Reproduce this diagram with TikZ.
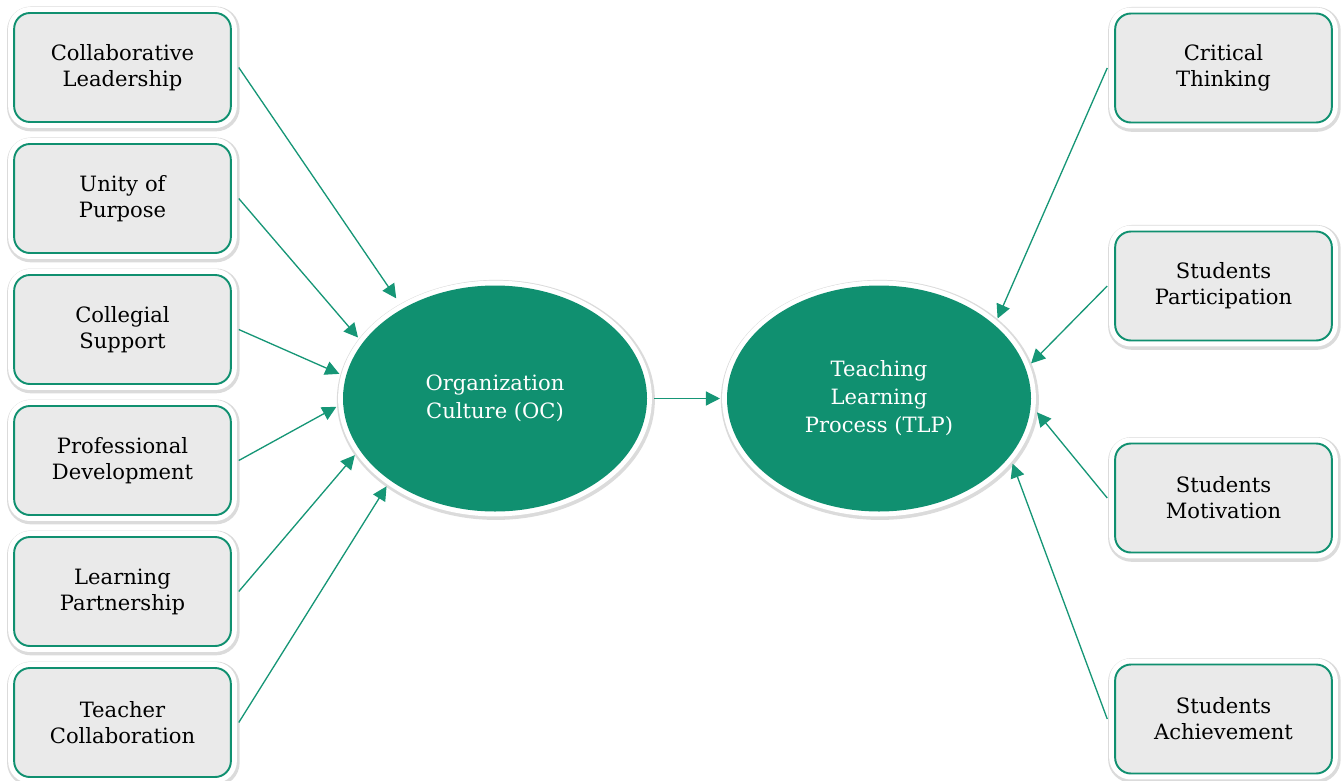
\documentclass[tikz,border=0pt]{standalone}
\usepackage{fontspec}
\setmainfont{DejaVu Serif}
\usepackage{xcolor}
\usetikzlibrary{arrows.meta}
\usetikzlibrary{shapes.geometric}

\definecolor{tealgreen}{RGB}{16,144,112}
\definecolor{linegreen}{RGB}{22,150,118}
\definecolor{boxgray}{RGB}{234,234,234}

\tikzset{
  factor/.style={rectangle, rounded corners=9pt, draw=tealgreen, line width=1.1pt,
    fill=boxgray, minimum width=4.3cm, minimum height=2.18cm, text width=4.1cm,
    align=center, font=\fontsize{12}{14.8}\selectfont, outer sep=4.5pt,
    preaction={draw=black!14, line width=9pt, transform canvas={xshift=0.5pt,yshift=-0.8pt}},
    preaction={draw=white, line width=6.8pt}},
  construct/.style={ellipse, fill=tealgreen, text=white, minimum width=6.08cm,
    minimum height=4.52cm, inner sep=0pt, align=center,
    font=\fontsize{12}{16}\selectfont, outer sep=4pt,
    preaction={draw=black!14, line width=8pt, transform canvas={xshift=0.5pt,yshift=-0.8pt}},
    preaction={draw=white, line width=5.6pt}},
  link/.style={draw=linegreen, line width=0.75pt, -{Triangle[length=8pt,width=8pt]}}
}

\begin{document}
\begin{tikzpicture}
\useasboundingbox (0,0) rectangle (26.82,-15.62);

% dimensions of organization culture
\node[factor] (lead) at (2.45,-1.35) {Collaborative\\Leadership};
\node[factor] (unity) at (2.45,-3.97) {Unity of\\Purpose};
\node[factor] (coll) at (2.45,-6.59) {Collegial\\Support};
\node[factor] (prof) at (2.45,-9.21) {Professional\\Development};
\node[factor] (part) at (2.45,-11.83) {Learning\\Partnership};
\node[factor] (teach) at (2.45,-14.45) {Teacher\\Collaboration};

% dimensions of teaching learning process
\node[factor] (crit) at (24.47,-1.36) {Critical\\Thinking};
\node[factor] (spart) at (24.47,-5.72) {Students\\Participation};
\node[factor] (smot) at (24.47,-9.96) {Students\\Motivation};
\node[factor] (sach) at (24.47,-14.38) {Students\\Achievement};

\node[construct] (oc) at (9.9,-7.97) {Organization\\Culture (OC)};
\node[construct] (tlp) at (17.58,-7.97) {Teaching\\Learning\\Process (TLP)};

\foreach \src/\ang in {unity/156.5,coll/171.4,prof/183,part/202.2,teach/219.2}
{
	\draw[link] (\src.east) -- (oc.\ang);
}
\draw[link,shorten >=3pt] (lead.east) -- (oc.135.7);

\foreach \src/\ang in {crit/34,spart/13.8,smot/-5.9,sach/-26.2}
{
	\draw[link] (\src.west) -- (tlp.\ang);
}

\draw[link] (oc.east) -- (tlp.west);

\end{tikzpicture}
\end{document}
